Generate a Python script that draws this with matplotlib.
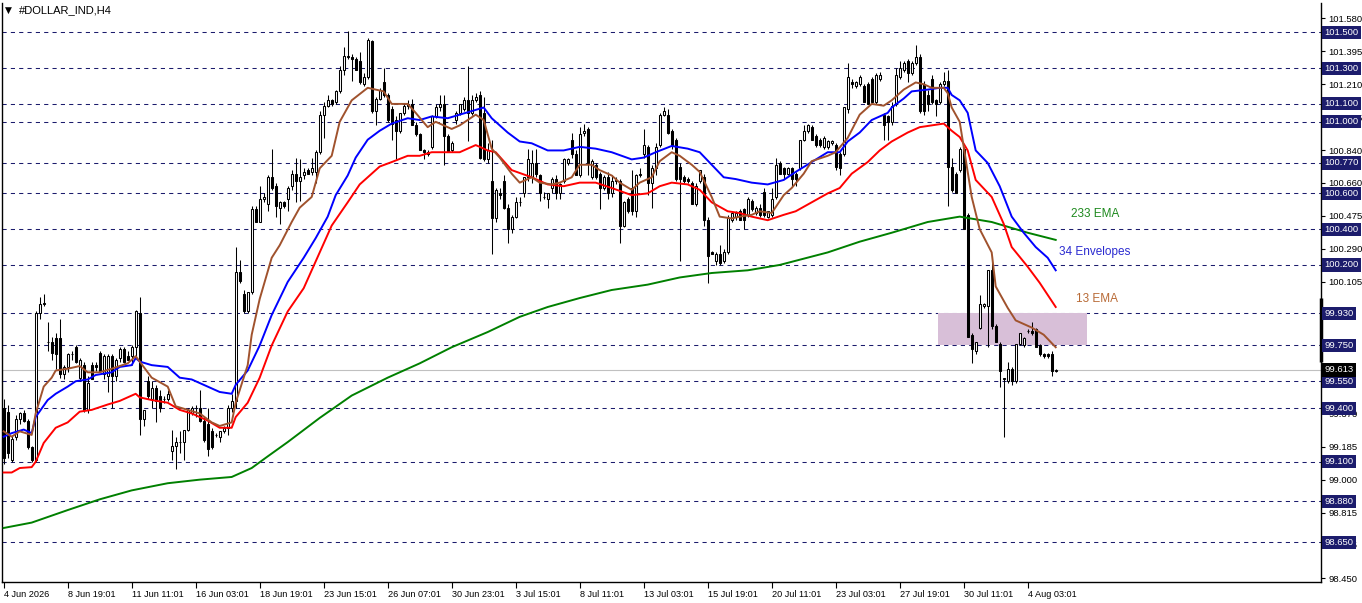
import numpy as np
import matplotlib.pyplot as plt
from matplotlib.patches import Rectangle
from matplotlib import transforms

plt.rcParams['font.family'] = ['Liberation Sans', 'DejaVu Sans']

# H4 candles, one entry per bar
opens = [
    99.40, 99.38, 99.11, 99.24, 99.34, 99.37, 99.33, 99.18, 99.11, 99.93,
    99.98, 99.77, 99.77, 99.79, 99.79, 99.59, 99.63, 99.70, 99.74, 99.57,
    99.64, 99.39, 99.64, 99.64, 99.71, 99.59, 99.58, 99.69, 99.58, 99.68,
    99.73, 99.69, 99.69, 99.74, 99.93, 99.34, 99.55, 99.45, 99.51, 99.47,
    99.45, 99.45, 99.16, 99.19, 99.21, 99.21, 99.28, 99.37, 99.40, 99.40,
    99.33, 99.31, 99.27, 99.25, 99.24, 99.27, 99.29, 99.40, 99.44, 100.16,
    100.04, 99.94, 100.05, 100.51, 100.44, 100.57, 100.54, 100.69, 100.64, 100.52,
    100.55, 100.57, 100.64, 100.71, 100.67, 100.70, 100.73, 100.72, 100.72, 100.83,
    101.04, 101.09, 101.12, 101.11, 101.17, 101.29, 101.37, 101.36, 101.35, 101.34,
    101.21, 101.25, 101.45, 101.06, 101.13, 101.22, 101.15, 101.07, 101.01, 100.95,
    101.05, 101.09, 101.10, 100.98, 100.93, 100.84, 100.83, 100.86, 101.03, 101.08,
    101.10, 100.92, 100.84, 101.01, 101.05, 101.07, 101.12, 101.05, 101.12, 101.15,
    101.05, 100.79, 100.67, 100.46, 100.60, 100.67, 100.52, 100.40, 100.47, 100.55,
    100.60, 100.69, 100.69, 100.77, 100.70, 100.58, 100.57, 100.63, 100.68, 100.60,
    100.67, 100.77, 100.90, 100.82, 100.70, 100.94, 100.96, 100.69, 100.76, 100.71,
    100.63, 100.69, 100.60, 100.67, 100.67, 100.42, 100.57, 100.63, 100.50, 100.70,
    100.82, 100.86, 100.66, 100.74, 100.87, 101.04, 101.04, 100.95, 100.90, 100.75,
    100.69, 100.68, 100.66, 100.54, 100.67, 100.69, 100.45, 100.27, 100.22, 100.26,
    100.22, 100.27, 100.45, 100.47, 100.50, 100.51, 100.48, 100.56, 100.49, 100.52,
    100.61, 100.47, 100.48, 100.58, 100.77, 100.74, 100.71, 100.74, 100.71, 100.74,
    100.90, 100.95, 100.97, 100.92, 100.90, 100.86, 100.86, 100.88, 100.87, 100.82,
    100.82, 101.07, 101.22, 101.20, 101.21, 101.20, 101.21, 101.24, 101.11, 101.24,
    101.04, 101.03, 101.00, 101.10, 101.25, 101.29, 101.34, 101.27, 101.33, 101.36,
    101.21, 101.15, 101.24, 101.12, 101.11, 101.21, 101.23, 100.75, 100.71, 100.73,
    100.85, 100.48, 99.81, 99.72, 99.85, 99.97, 99.97, 100.17, 99.86, 99.76,
    99.56, 99.55, 99.62, 99.55, 99.76, 99.75, 99.83, 99.83, 99.84, 99.75,
    99.70, 99.70, 99.70, 99.61,
]
highs = [
    99.45, 99.42, 99.25, 99.36, 99.38, 99.39, 99.34, 99.19, 99.94, 100.02,
    100.04, 99.88, 99.80, 99.82, 99.90, 99.64, 99.71, 99.72, 99.75, 99.68,
    99.66, 99.58, 99.66, 99.66, 99.72, 99.70, 99.70, 99.70, 99.68, 99.74,
    99.74, 99.72, 99.75, 99.95, 100.02, 99.39, 99.58, 99.55, 99.53, 99.50,
    99.47, 99.50, 99.28, 99.24, 99.27, 99.28, 99.40, 99.41, 99.42, 99.50,
    99.35, 99.40, 99.29, 99.26, 99.27, 99.30, 99.42, 99.48, 100.30, 100.23,
    100.06, 100.05, 100.53, 100.53, 100.64, 100.60, 100.70, 100.85, 100.66, 100.56,
    100.56, 100.64, 100.73, 100.80, 100.79, 100.74, 100.74, 100.80, 100.84, 101.06,
    101.11, 101.15, 101.13, 101.18, 101.31, 101.42, 101.51, 101.38, 101.36, 101.39,
    101.27, 101.47, 101.46, 101.14, 101.19, 101.30, 101.16, 101.09, 101.03, 101.05,
    101.10, 101.12, 101.13, 101.00, 100.94, 100.85, 100.84, 101.04, 101.10, 101.15,
    101.15, 100.93, 100.89, 101.06, 101.10, 101.14, 101.31, 101.15, 101.16, 101.17,
    101.14, 100.88, 100.90, 100.63, 100.63, 100.70, 100.54, 100.48, 100.58, 100.58,
    100.69, 100.85, 100.84, 100.85, 100.71, 100.61, 100.60, 100.69, 100.70, 100.66,
    100.80, 100.80, 100.94, 100.84, 100.97, 100.99, 100.97, 100.79, 100.77, 100.72,
    100.70, 100.72, 100.70, 100.69, 100.68, 100.56, 100.58, 100.73, 100.71, 100.74,
    100.96, 100.87, 100.76, 100.88, 101.05, 101.08, 101.07, 100.96, 100.91, 100.77,
    100.70, 100.69, 100.67, 100.66, 100.73, 100.71, 100.47, 100.28, 100.27, 100.31,
    100.29, 100.48, 100.50, 100.50, 100.51, 100.52, 100.58, 100.57, 100.53, 100.54,
    100.63, 100.50, 100.63, 100.80, 100.78, 100.75, 100.75, 100.75, 100.72, 100.90,
    100.98, 100.99, 100.98, 100.93, 100.91, 100.92, 100.90, 100.90, 100.88, 100.83,
    101.08, 101.33, 101.24, 101.23, 101.26, 101.21, 101.22, 101.25, 101.27, 101.28,
    101.05, 101.04, 101.11, 101.30, 101.34, 101.34, 101.35, 101.34, 101.43, 101.38,
    101.23, 101.18, 101.26, 101.13, 101.22, 101.28, 101.29, 100.80, 100.72, 100.86,
    100.86, 100.49, 99.82, 99.77, 100.03, 99.99, 100.17, 100.25, 99.87, 99.77,
    99.57, 99.66, 99.63, 99.76, 99.82, 99.80, 99.84, 99.88, 99.85, 99.76,
    99.71, 99.71, 99.72, 99.62,
]
lows = [
    99.09, 99.12, 99.10, 99.22, 99.31, 99.32, 99.17, 99.10, 99.10, 99.90,
    99.97, 99.72, 99.67, 99.62, 99.57, 99.56, 99.60, 99.67, 99.65, 99.55,
    99.38, 99.37, 99.56, 99.61, 99.60, 99.56, 99.49, 99.40, 99.55, 99.66,
    99.65, 99.67, 99.64, 99.69, 99.25, 99.30, 99.45, 99.40, 99.32, 99.38,
    99.43, 99.44, 99.11, 99.06, 99.15, 99.11, 99.27, 99.36, 99.35, 99.32,
    99.21, 99.13, 99.17, 99.24, 99.21, 99.26, 99.25, 99.38, 99.40, 100.10,
    99.93, 99.93, 100.04, 100.44, 100.44, 100.55, 100.50, 100.62, 100.47, 100.43,
    100.52, 100.50, 100.62, 100.55, 100.56, 100.68, 100.71, 100.70, 100.66, 100.82,
    100.91, 101.08, 101.09, 101.10, 101.16, 101.26, 101.35, 101.23, 101.29, 101.21,
    101.20, 101.24, 101.05, 100.98, 101.12, 101.14, 101.00, 100.90, 100.79, 100.94,
    101.04, 101.07, 100.98, 100.92, 100.84, 100.79, 100.81, 100.85, 101.02, 101.06,
    100.76, 100.83, 100.83, 100.99, 101.04, 101.06, 100.89, 101.04, 101.11, 100.79,
    100.78, 100.77, 100.26, 100.44, 100.57, 100.51, 100.32, 100.38, 100.46, 100.53,
    100.58, 100.67, 100.66, 100.69, 100.56, 100.57, 100.52, 100.60, 100.57, 100.57,
    100.66, 100.76, 100.80, 100.70, 100.69, 100.92, 100.70, 100.68, 100.68, 100.51,
    100.62, 100.57, 100.58, 100.65, 100.32, 100.41, 100.49, 100.48, 100.47, 100.69,
    100.80, 100.59, 100.52, 100.70, 100.86, 101.03, 100.93, 100.85, 100.67, 100.22,
    100.66, 100.66, 100.54, 100.53, 100.66, 100.42, 100.10, 100.26, 100.20, 100.20,
    100.21, 100.26, 100.44, 100.45, 100.45, 100.40, 100.47, 100.50, 100.48, 100.47,
    100.47, 100.46, 100.47, 100.57, 100.71, 100.68, 100.70, 100.64, 100.64, 100.73,
    100.89, 100.94, 100.90, 100.86, 100.86, 100.85, 100.85, 100.87, 100.73, 100.70,
    100.81, 101.05, 101.19, 101.19, 101.20, 101.11, 101.10, 101.11, 101.10, 101.23,
    100.90, 100.90, 100.98, 101.09, 101.24, 101.28, 101.22, 101.26, 101.32, 101.05,
    101.04, 101.06, 101.10, 101.03, 101.10, 101.20, 100.53, 100.61, 100.60, 100.72,
    100.40, 99.80, 99.65, 99.70, 99.84, 99.96, 99.74, 99.84, 99.77, 99.52,
    99.24, 99.54, 99.53, 99.54, 99.75, 99.74, 99.82, 99.81, 99.74, 99.69,
    99.68, 99.68, 99.58, 99.60,
]
closes = [
    99.12, 99.15, 99.23, 99.34, 99.37, 99.33, 99.18, 99.11, 99.93, 99.98,
    99.99, 99.77, 99.71, 99.70, 99.59, 99.63, 99.70, 99.70, 99.66, 99.67,
    99.39, 99.54, 99.56, 99.63, 99.61, 99.69, 99.69, 99.58, 99.67, 99.73,
    99.66, 99.67, 99.74, 99.94, 99.34, 99.39, 99.47, 99.51, 99.44, 99.40,
    99.45, 99.48, 99.19, 99.21, 99.21, 99.28, 99.39, 99.40, 99.40, 99.33,
    99.22, 99.17, 99.18, 99.25, 99.27, 99.29, 99.40, 99.44, 100.16, 100.11,
    99.94, 100.05, 100.51, 100.44, 100.57, 100.58, 100.69, 100.63, 100.53, 100.55,
    100.53, 100.63, 100.71, 100.67, 100.69, 100.72, 100.71, 100.74, 100.83, 101.04,
    101.09, 101.12, 101.10, 101.17, 101.29, 101.37, 101.36, 101.35, 101.29, 101.22,
    101.25, 101.46, 101.06, 101.13, 101.18, 101.15, 101.01, 100.99, 100.95, 101.05,
    101.09, 101.10, 100.98, 100.93, 100.84, 100.83, 100.82, 101.03, 101.08, 101.10,
    100.92, 100.83, 100.88, 101.05, 101.10, 101.12, 101.05, 101.12, 101.14, 100.80,
    100.79, 100.84, 100.46, 100.62, 100.59, 100.52, 100.40, 100.47, 100.55, 100.55,
    100.69, 100.79, 100.77, 100.71, 100.60, 100.58, 100.60, 100.68, 100.60, 100.65,
    100.79, 100.79, 100.82, 100.70, 100.93, 100.95, 100.77, 100.78, 100.69, 100.63,
    100.69, 100.60, 100.67, 100.67, 100.42, 100.55, 100.50, 100.50, 100.70, 100.71,
    100.87, 100.66, 100.74, 100.86, 101.04, 101.06, 100.94, 100.87, 100.68, 100.68,
    100.67, 100.67, 100.54, 100.64, 100.73, 100.45, 100.25, 100.26, 100.26, 100.21,
    100.27, 100.46, 100.49, 100.49, 100.45, 100.45, 100.57, 100.51, 100.52, 100.48,
    100.48, 100.50, 100.57, 100.76, 100.71, 100.71, 100.74, 100.68, 100.68, 100.90,
    100.95, 100.98, 100.90, 100.87, 100.87, 100.91, 100.89, 100.89, 100.75, 100.74,
    101.08, 101.25, 101.21, 101.22, 101.25, 101.11, 101.10, 101.11, 101.26, 101.26,
    100.98, 101.00, 101.09, 101.26, 101.30, 101.33, 101.27, 101.33, 101.36, 101.06,
    101.06, 101.10, 101.11, 101.10, 101.21, 101.23, 100.75, 100.62, 100.60, 100.85,
    100.40, 99.80, 99.73, 99.77, 99.98, 99.98, 100.17, 99.86, 99.77, 99.61,
    99.57, 99.62, 99.55, 99.76, 99.82, 99.79, 99.83, 99.82, 99.74, 99.70,
    99.69, 99.69, 99.61, 99.613,
]

ema13_bar = [0, 2, 4, 7, 8, 10, 12, 13, 16, 19, 21, 24, 27, 31, 33, 35, 37, 41, 43, 46,
             49, 52, 54, 57, 58, 61, 62, 64, 67, 69, 72, 74, 77, 79, 82, 84, 86, 87, 91, 93,
             95, 97, 101, 103, 106, 108, 112, 114, 118, 120, 122, 124, 127, 129, 132, 134, 137, 139, 142, 144,
             147, 149, 152, 154, 157, 159, 162, 164, 167, 169, 172, 174, 177, 179, 182, 184, 187, 189, 192, 195,
             197, 200, 202, 206, 208, 211, 214, 217, 220, 222, 225, 228, 230, 232, 235, 236, 237, 239, 240, 242,
             244, 247, 248, 251, 253, 257, 260, 263]
ema13 = [99.27, 99.24, 99.27, 99.25, 99.37, 99.52, 99.57, 99.61, 99.62, 99.635,
         99.60, 99.60, 99.62, 99.65, 99.69, 99.63, 99.57, 99.52, 99.41, 99.39,
         99.37, 99.32, 99.30, 99.32, 99.43, 99.64, 99.81, 100.01, 100.24, 100.31,
         100.44, 100.52, 100.58, 100.74, 100.81, 101.00, 101.08, 101.12, 101.19, 101.18,
         101.17, 101.10, 101.10, 101.05, 100.97, 101.00, 100.96, 100.98, 101.04, 101.01,
         100.85, 100.80, 100.71, 100.66, 100.69, 100.66, 100.65, 100.66, 100.69, 100.76,
         100.76, 100.73, 100.70, 100.66, 100.62, 100.66, 100.69, 100.78, 100.83, 100.81,
         100.76, 100.72, 100.58, 100.47, 100.46, 100.47, 100.48, 100.50, 100.49, 100.59,
         100.63, 100.71, 100.78, 100.81, 100.83, 100.91, 101.04, 101.10, 101.09, 101.12,
         101.18, 101.22, 101.21, 101.19, 101.19, 101.16, 101.08, 101.00, 100.86, 100.58,
         100.40, 100.27, 100.08, 99.96, 99.89, 99.85, 99.81, 99.74]

env34_bar = [0, 2, 5, 7, 8, 11, 13, 16, 18, 21, 23, 27, 29, 32, 33, 34, 37, 41, 44, 47,
             51, 54, 57, 58, 61, 64, 67, 71, 75, 78, 81, 83, 86, 88, 91, 94, 97, 101, 104, 107,
             111, 114, 117, 120, 122, 126, 129, 132, 136, 140, 144, 148, 152, 157, 160, 163, 167, 171, 174, 177,
             180, 183, 187, 191, 195, 198, 202, 206, 209, 211, 214, 217, 221, 222, 225, 227, 231, 234, 236, 237,
             239, 241, 243, 246, 249, 252, 255, 258, 261, 263]
env34 = [99.24, 99.26, 99.28, 99.26, 99.35, 99.445, 99.48, 99.52, 99.55, 99.56,
         99.585, 99.60, 99.63, 99.64, 99.68, 99.66, 99.64, 99.63, 99.57, 99.56,
         99.52, 99.49, 99.48, 99.53, 99.61, 99.75, 99.92, 100.105, 100.24, 100.35,
         100.47, 100.59, 100.70, 100.80, 100.90, 100.95, 100.99, 101.02, 101.01, 101.03,
         101.02, 101.04, 101.06, 101.08, 101.02, 100.94, 100.89, 100.88, 100.84, 100.84,
         100.86, 100.85, 100.83, 100.79, 100.80, 100.83, 100.865, 100.85, 100.83, 100.76,
         100.69, 100.68, 100.66, 100.65, 100.675, 100.72, 100.775, 100.83, 100.83, 100.89,
         100.94, 101.01, 101.05, 101.08, 101.13, 101.17, 101.18, 101.19, 101.19, 101.15,
         101.12, 101.05, 100.84, 100.77, 100.64, 100.47, 100.38, 100.30, 100.24, 100.17]

red_bar = [0, 2, 4, 7, 8, 10, 13, 16, 19, 22, 26, 29, 32, 33, 34, 37, 41, 44, 47, 51,
           54, 57, 58, 61, 64, 67, 71, 75, 79, 82, 86, 89, 91, 94, 97, 101, 104, 107, 111, 114,
           118, 121, 123, 127, 132, 136, 140, 144, 148, 152, 157, 161, 164, 167, 171, 174, 177, 181, 184, 187,
           191, 195, 198, 202, 206, 209, 212, 216, 219, 222, 226, 229, 232, 235, 237, 239, 241, 243, 247, 250,
           252, 256, 259, 263]
red_line = [99.04, 99.04, 99.065, 99.07, 99.10, 99.205, 99.29, 99.32, 99.38, 99.39,
            99.42, 99.44, 99.47, 99.48, 99.46, 99.445, 99.43, 99.39, 99.37, 99.33,
            99.29, 99.29, 99.35, 99.43, 99.57, 99.75, 99.94, 100.07, 100.27, 100.42,
            100.55, 100.65, 100.69, 100.75, 100.775, 100.81, 100.81, 100.83, 100.83, 100.83,
            100.87, 100.84, 100.83, 100.73, 100.69, 100.65, 100.64, 100.66, 100.66, 100.63,
            100.59, 100.60, 100.64, 100.66, 100.65, 100.62, 100.55, 100.50, 100.49, 100.47,
            100.45, 100.48, 100.50, 100.55, 100.60, 100.63, 100.71, 100.775, 100.84, 100.89,
            100.94, 100.97, 100.98, 100.99, 100.95, 100.915, 100.84, 100.675, 100.58, 100.43,
            100.30, 100.19, 100.10, 99.965]

ema233_bar = [0, 7, 16, 24, 32, 41, 49, 57, 62, 66, 71, 79, 87, 96, 104, 112, 121, 129, 136, 144,
              152, 161, 169, 177, 186, 194, 206, 214, 222, 231, 239, 247, 256, 263]
ema233 = [98.73, 98.76, 98.83, 98.89, 98.94, 98.98, 99.00, 99.015, 99.065, 99.13,
          99.21, 99.345, 99.47, 99.57, 99.65, 99.74, 99.825, 99.91, 99.965, 100.015,
          100.06, 100.09, 100.13, 100.155, 100.17, 100.20, 100.27, 100.33, 100.38, 100.44,
          100.47, 100.44, 100.38, 100.34]

levels = [101.5, 101.3, 101.1, 101.0, 100.77, 100.6, 100.4, 100.2, 99.93, 99.75,
          99.55, 99.4, 99.1, 98.88, 98.65]
price_ticks = [101.580, 101.395, 101.210, 101.025, 100.840, 100.660, 100.475, 100.290, 100.105,
               99.920, 99.740, 99.555, 99.370, 99.185, 99.000, 98.815, 98.635, 98.450]
# these three sit fully under the level boxes in the reference
hidden_ticks = [99.920, 99.740, 99.555]
last_price = 99.613
zone = (99.75, 99.93)

time_ticks = list(range(0, 257, 16))
time_labels = ['4 Jun 2026', '8 Jun 19:01', '11 Jun 11:01', '16 Jun 03:01', '18 Jun 19:01',
               '23 Jun 15:01', '26 Jun 07:01', '30 Jun 23:01', '3 Jul 15:01', '8 Jul 11:01',
               '13 Jul 03:01', '15 Jul 19:01', '20 Jul 11:01', '23 Jul 03:01', '27 Jul 19:01',
               '30 Jul 11:01', '4 Aug 03:01']

navy = '#1c1c6c'

fig = plt.figure(figsize=(13.62, 6.03), dpi=100)
ax = fig.add_axes([2 / 1362, 21 / 603, 1319 / 1362, 579 / 603])
ax.set_xlim(-0.425, 329.325)
ax.set_ylim(98.428, 101.664)
trans = transforms.blended_transform_factory(ax.transAxes, ax.transData)

# level lines and zone
for lv in levels:
    ax.axhline(lv, color=navy, lw=0.75, ls=(0, (4, 4)), zorder=1)
ax.axhline(last_price, color='#c0c0c0', lw=0.8, zorder=1)
ax.add_patch(Rectangle((233.6, zone[0]), 37.2, zone[1] - zone[0],
                       facecolor='#d8bfd8', edgecolor='none', zorder=1.5))

# candles
o = np.array(opens)
c = np.array(closes)
x = np.arange(len(c))
ax.vlines(x, lows, highs, color='black', lw=0.75, zorder=3)
up = c >= o
body = np.maximum(np.abs(c - o), 0.002)
ax.bar(x[up], body[up], bottom=o[up], width=0.5, facecolor='white',
       edgecolor='black', lw=0.75, zorder=4)
ax.bar(x[~up], body[~up], bottom=c[~up], width=0.5, facecolor='black',
       edgecolor='black', lw=0.75, zorder=4)

# indicators
ax.plot(ema233_bar, ema233, color='#008000', lw=1.4, zorder=5)
ax.plot(red_bar, red_line, color='#ff0000', lw=1.4, zorder=5)
ax.plot(env34_bar, env34, color='#0000ff', lw=1.4, zorder=5)
ax.plot(ema13_bar, ema13, color='#a0522d', lw=1.4, zorder=6)

ax.text(266.8, 100.485, '233 EMA', color='#1e8a1e', fontsize=8.5, va='center')
ax.text(263.8, 100.272, '34 Envelopes', color='#2a2ad0', fontsize=8.5, va='center')
ax.text(268.1, 100.010, '13 EMA', color='#b86a36', fontsize=8.5, va='center')

# axes look
ax.spines['top'].set_visible(False)
for s in ['left', 'right', 'bottom']:
    ax.spines[s].set_linewidth(1.0)
    ax.spines[s].set_color('black')

ax.yaxis.tick_right()
ax.set_yticks(price_ticks)
ax.set_yticklabels(['' if v in hidden_ticks else f'{v:.3f}' for v in price_ticks])
ax.tick_params(axis='y', direction='out', length=3, width=0.8, pad=2.5, labelsize=6.8)
ax.set_xticks(time_ticks)
ax.set_xticklabels(time_labels, ha='left')
ax.tick_params(axis='x', direction='out', length=4, width=0.8, pad=2, labelsize=6.6)

for lv in levels:
    ax.annotate(f'{lv:.3f}', xy=(1, lv), xycoords=trans, xytext=(2.5, 0),
                textcoords='offset points', ha='left', va='center', fontsize=6.8,
                color='white', annotation_clip=False, zorder=10,
                bbox=dict(boxstyle='square,pad=0.22', fc=navy, ec='none'))
ax.annotate(f'{last_price:.3f}', xy=(1, last_price), xycoords=trans, xytext=(2.5, 0),
            textcoords='offset points', ha='left', va='center', fontsize=6.8,
            color='white', annotation_clip=False, zorder=11,
            bbox=dict(boxstyle='square,pad=0.22', fc='black', ec='none'))
ax.plot([1, 1], [99.658, 100.015], transform=trans, color='black', lw=2.5,
        clip_on=False, solid_capstyle='butt', zorder=7)

fig.text(5 / 1362, 1 - 10 / 603, '\u25bc', fontsize=6.5, va='center', family='DejaVu Sans')
fig.text(19 / 1362, 1 - 10 / 603, '#DOLLAR_IND,H4', fontsize=8, va='center')

fig.savefig('out.png', dpi=100)
